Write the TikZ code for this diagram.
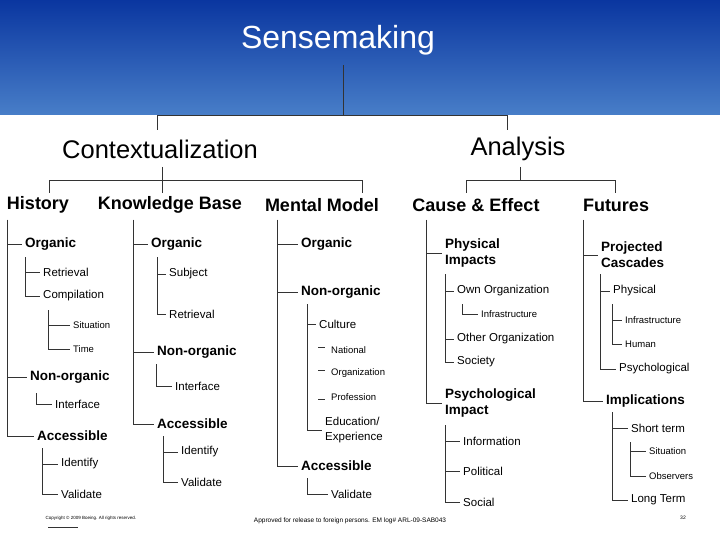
\documentclass[tikz,border=0pt]{standalone}
\usepackage{fontspec}
\setmainfont{Liberation Sans}
\definecolor{bandTop}{RGB}{10,54,160}
\definecolor{bandBot}{RGB}{72,126,200}
\tikzset{
  lvl/.style={inner sep=0pt, anchor=west, font=\fontsize{18}{20}\selectfont\bfseries},
  big/.style={inner sep=0pt, anchor=west, font=\fontsize{13.5}{16}\selectfont\bfseries, align=left},
  mid/.style={inner sep=0pt, anchor=west, font=\fontsize{11.5}{15}\selectfont, align=left},
  sml/.style={inner sep=0pt, anchor=west, font=\fontsize{9.5}{11}\selectfont},
  br/.style={draw=black!80, line width=0.6pt},
}
\newcommand\brk[2]{\draw[br] (#1) |- ([xshift=-3pt]#2.west);}
\begin{document}
\begin{tikzpicture}[x=1pt, y=-1pt]
\useasboundingbox (0,0) rectangle (720,540);
\shade[top color=bandTop, bottom color=bandBot] (0,0) rectangle (720,115);

% top levels
\node[text=white, font=\fontsize{32}{36}\selectfont, inner sep=0pt] (sense) at (338,40) {Sensemaking};
\node[inner sep=0pt, font=\fontsize{25.5}{28}\selectfont] (ctx) at (160,149) {Contextualization};
\node[inner sep=0pt, font=\fontsize{25.5}{28}\selectfont] (ana) at (518,149) {Analysis};
\coordinate (s1) at (343,115);
\draw[br] (s1 |- 0,65) -- (s1);
\draw[br] (s1) -| (157,130) (s1) -| (507,130);

\node[lvl, anchor=center] (hist) at (38,205) {History};
\node[lvl, anchor=center] (kb) at (170,205) {Knowledge Base};
\node[lvl, anchor=center] (mm) at (322,205) {Mental Model};
\node[lvl, anchor=center] (ce) at (476,205) {Cause \& Effect};
\node[lvl, anchor=center] (fut) at (616,205) {Futures};
\coordinate (c1) at (162,180);
\draw[br] (c1 |- 0,167) -- (c1);
\draw[br] (c1) -| (49,193) (c1) -| (c1 |- 0,193) (c1) -| (362,193);
\coordinate (a1) at (520,180);
\draw[br] (a1 |- 0,167) -- (a1);
\draw[br] (a1) -| (466,193) (a1) -| (615,193);

% History
\node[big] (hOrg) at (25,244) {Organic};
\node[mid] (hRet) at (43,272) {Retrieval};
\node[mid] (hComp) at (43,296) {Compilation};
\node[sml] (hSit) at (73,325) {Situation};
\node[sml] (hTime) at (73,349) {Time};
\node[big] (hNon) at (30,377) {Non-organic};
\node[mid] (hInt) at (55,404) {Interface};
\node[big] (hAcc) at (37,436) {Accessible};
\node[mid] (hId) at (61,464) {Identify};
\node[mid] (hVal) at (61,494) {Validate};
\coordinate (hv) at (7,220);
\brk{hv}{hOrg} \brk{hv}{hNon} \brk{hv}{hAcc}
\coordinate (hv1) at (25,257);
\brk{hv1}{hRet} \brk{hv1}{hComp}
\coordinate (hv2) at (48,310);
\brk{hv2}{hSit} \brk{hv2}{hTime}
\coordinate (hv3) at (36,393);
\brk{hv3}{hInt}
\coordinate (hv4) at (42,448);
\brk{hv4}{hId} \brk{hv4}{hVal}

% Knowledge Base
\node[big] (kOrg) at (151,244) {Organic};
\node[mid] (kSub) at (169,274) {Subject};
\node[mid] (kRet) at (169,314) {Retrieval};
\node[big] (kNon) at (157,352) {Non-organic};
\node[mid] (kInt) at (175,386) {Interface};
\node[big] (kAcc) at (157,424) {Accessible};
\node[mid] (kId) at (181,452) {Identify};
\node[mid] (kVal) at (181,482) {Validate};
\coordinate (kv) at (133,220);
\brk{kv}{kOrg} \brk{kv}{kNon} \brk{kv}{kAcc}
\coordinate (kv1) at (157,257);
\brk{kv1}{kSub} \brk{kv1}{kRet}
\coordinate (kv2) at (156,364);
\brk{kv2}{kInt}
\coordinate (kv3) at (163,436);
\brk{kv3}{kId} \brk{kv3}{kVal}

% Mental Model
\node[big] (mOrg) at (301,244) {Organic};
\node[big] (mNon) at (301,292) {Non-organic};
\node[mid] (mCul) at (319,324) {Culture};
\node[sml] (mNat) at (331,350) {National};
\node[sml] (mOrgz) at (331,373) {Organization};
\node[sml] (mPro) at (331,397) {Profession};
\node[mid] (mEdu) at (325,430) {Education/\\Experience};
\node[big] (mAcc) at (301,466) {Accessible};
\node[mid] (mVal) at (331,494) {Validate};
\coordinate (mv) at (277,220);
\brk{mv}{mOrg} \brk{mv}{mNon} \brk{mv}{mAcc}
\coordinate (mv1) at (307,304);
\brk{mv1}{mCul} \brk{mv1}{mEdu}
\draw[br] ([xshift=-13pt, yshift=3pt]mNat.west) -- ++(7,0);
\draw[br] ([xshift=-13pt, yshift=3pt]mOrgz.west) -- ++(7,0);
\draw[br] ([xshift=-13pt, yshift=-2pt]mPro.west) -- ++(7,0);
\coordinate (mv2) at (307,478);
\brk{mv2}{mVal}

% Cause & Effect
\node[big] (cPhy) at (445,253) {Physical\\Impacts};
\node[mid] (cOwn) at (457,291) {Own Organization};
\node[sml] (cInf) at (481,314) {Infrastructure};
\node[mid] (cOth) at (457,339) {Other Organization};
\node[mid] (cSoc) at (457,362) {Society};
\node[big] (cPsy) at (445,403) {Psychological\\Impact};
\node[mid] (cInfo) at (463,441) {Information};
\node[mid] (cPol) at (463,471) {Political};
\node[mid] (cSocl) at (463,502) {Social};
\coordinate (cv) at (426,220);
\brk{cv}{cPhy} \brk{cv}{cPsy}
\coordinate (cv1) at (445,274);
\brk{cv1}{cOwn} \brk{cv1}{cOth} \brk{cv1}{cSoc}
\coordinate (cv2) at (462,304);
\brk{cv2}{cInf}
\coordinate (cv3) at (445,425);
\brk{cv3}{cInfo} \brk{cv3}{cPol} \brk{cv3}{cSocl}

% Futures
\node[big] (fPro) at (601,255) {Projected\\Cascades};
\node[mid] (fPhy) at (613,291) {Physical};
\node[sml] (fInf) at (625,320) {Infrastructure};
\node[sml] (fHum) at (625,344) {Human};
\node[mid] (fPsy) at (619,369) {Psychological};
\node[big] (fImp) at (606,401) {Implications};
\node[mid] (fSho) at (631,428) {Short term};
\node[sml] (fSit) at (649,451) {Situation};
\node[sml] (fObs) at (649,476) {Observers};
\node[mid] (fLon) at (631,500) {Long Term};
\coordinate (fv) at (583,220);
\brk{fv}{fPro} \brk{fv}{fImp}
\coordinate (fv1) at (600,274);
\brk{fv1}{fPhy} \brk{fv1}{fPsy}
\coordinate (fv2) at (612,304);
\brk{fv2}{fInf} \brk{fv2}{fHum}
\coordinate (fv3) at (612,412);
\brk{fv3}{fSho} \brk{fv3}{fLon}
\coordinate (fv4) at (630,442);
\brk{fv4}{fSit} \brk{fv4}{fObs}

% footer
\node[inner sep=0pt, font=\fontsize{4.5}{5}\selectfont] (copy) at (91,518) {Copyright \textcopyright\ 2009 Boeing. All rights reserved.};
\draw[br] (48,527) -- (78,527);
\node[inner sep=0pt, font=\fontsize{6.5}{7}\selectfont] (appr) at (350,521) {Approved for release to foreign persons. EM log\# ARL-09-SAB043};
\node[inner sep=0pt, font=\fontsize{5}{6}\selectfont] (pg) at (683,518) {32};
\end{tikzpicture}
\end{document}
